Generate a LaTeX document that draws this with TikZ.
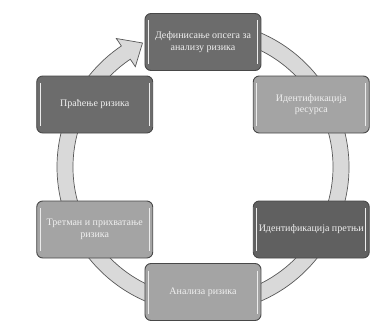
\documentclass[tikz,border=0pt]{standalone}
\usepackage{fontspec}
\setmainfont{Liberation Serif}
\usetikzlibrary{positioning,calc}
\definecolor{cycledark}{RGB}{108,108,108}
\definecolor{cycledeep}{RGB}{96,96,96}
\definecolor{cyclelight}{RGB}{164,164,164}
\definecolor{cycleedge}{RGB}{72,72,72}
\definecolor{cycleband}{RGB}{217,217,217}
\definecolor{cycleline}{RGB}{88,88,88}
\definecolor{cycletext}{RGB}{240,240,240}
\definecolor{cyclegloss}{RGB}{236,236,236}
\tikzset{
  stage box/.style={
    draw=cycleedge,
    rounded corners=6pt,
    line width=0.9pt,
    minimum width=116pt,
    minimum height=57pt,
    inner sep=2pt,
    align=center,
    font=\fontsize{10}{11.5}\selectfont,
    text=cycletext,
    path picture={
      \draw[cyclegloss, line width=0.8pt]
        ($(path picture bounding box.north west)+(3.5pt,-7pt)$) --
        ($(path picture bounding box.south west)+(3.5pt,7pt)$);
      \draw[cyclegloss, line width=0.8pt]
        ($(path picture bounding box.north east)+(-3.5pt,-7pt)$) --
        ($(path picture bounding box.south east)+(-3.5pt,7pt)$);
    },
  },
  ring band/.style={
    fill=cycleband,
    draw=cycleline,
    line width=0.7pt,
  },
}

\begin{document}
\begin{tikzpicture}[x=1pt,y=1pt]
  \useasboundingbox (-203,-160) rectangle (175,167);
  \coordinate (hub) at (0,0);
  % band with the closing arrow head
  \draw[ring band] (100:146) arc[start angle=100, end angle=-236, radius=146]
    -- (-236:155) -- (-244:138) -- (-236:121) -- (-236:130)
    arc[start angle=-236, end angle=100, radius=130] -- cycle;
  % the six stages
  \node[stage box, fill=cycledark] (scope) at (90:125)
    {Дефинисање опсега за\\анализу ризика};
  \node[stage box, fill=cyclelight] (assets) at (30:125)
    {Идентификација\\ресурса};
  \node[stage box, fill=cycledeep] (threats) at (-30:125)
    {Идентификација претњи};
  \node[stage box, fill=cyclelight] (analysis) at (-90:125)
    {Анализа ризика};
  \node[stage box, fill=cyclelight] (treatment) at (-150:125)
    {Третман и прихватање\\ризика};
  \node[stage box, fill=cycledark] (monitor) at (150:125)
    {Праћење ризика};
\end{tikzpicture}
\end{document}
